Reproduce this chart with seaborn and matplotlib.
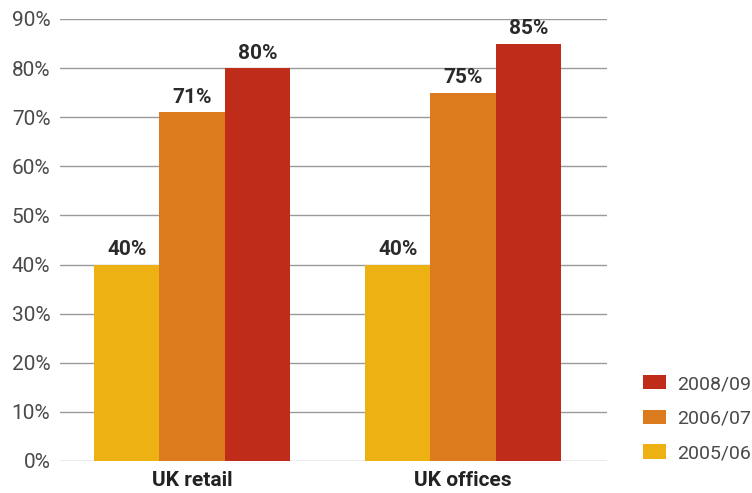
import matplotlib
matplotlib.use("Agg")
import matplotlib.pyplot as plt
import seaborn as sns
import pandas as pd
from matplotlib.patches import Patch

categories = ["UK retail", "UK offices"]
years = ["2005/06", "2006/07", "2008/09"]
values_2005 = [40, 40]
values_2006 = [71, 75]
values_2008 = [80, 85]
colors = ["#EEB113", "#DB7B1E", "#BF2C1A"]
yticks = [0, 10, 20, 30, 40, 50, 60, 70, 80, 90]

rows = []
for yr, vals in zip(years, [values_2005, values_2006, values_2008]):
    for c, v in zip(categories, vals):
        rows.append({"cat": c, "year": yr, "val": v})
df = pd.DataFrame(rows)

sns.set_theme(style="white")
plt.rcParams["font.family"] = ["Roboto", "DejaVu Sans"]

fig = plt.figure(figsize=(7.52, 4.93), dpi=100)
ax = fig.add_axes([60/752, (493-461)/493, (607-60)/752, (461-19)/493])

sns.barplot(data=df, x="cat", y="val", hue="year", order=categories,
            hue_order=years, palette=colors, width=0.723, saturation=1,
            ax=ax, legend=False, linewidth=0, zorder=3)

ax.set_ylim(0, 90)
ax.set_xlim(-0.487, 1.531)
ax.set_yticks(yticks)
ax.set_yticklabels([f"{t}%" for t in yticks], fontsize=15, color="#4a4a4a")
ax.grid(axis="y", color="#9a9a9a", linewidth=1.0, zorder=0)
ax.set_axisbelow(True)
for s in ax.spines.values():
    s.set_visible(False)
ax.tick_params(axis="both", length=0)
ax.tick_params(axis="y", pad=7)
ax.tick_params(axis="x", pad=7)
for lbl in ax.get_xticklabels():
    lbl.set_fontweight("bold")
    lbl.set_fontsize(15)
    lbl.set_color("#222222")
ax.set_xlabel("")
ax.set_ylabel("")

for cont in ax.containers:
    ax.bar_label(cont, fmt="%d%%", padding=4, fontsize=15,
                 fontweight="bold", color="#2a2a2a")

handles = [Patch(facecolor=c, edgecolor="none") for c in colors][::-1]
labels = years[::-1]
fig.legend(handles, labels, loc="upper left",
           bbox_to_anchor=(643/752, (493-375)/493), frameon=False,
           fontsize=14, labelcolor="#4a4a4a", handlelength=1.18,
           handleheight=0.77, handletextpad=0.6, labelspacing=0.85,
           borderpad=0, borderaxespad=0)

fig.savefig("out.png", dpi=100)
